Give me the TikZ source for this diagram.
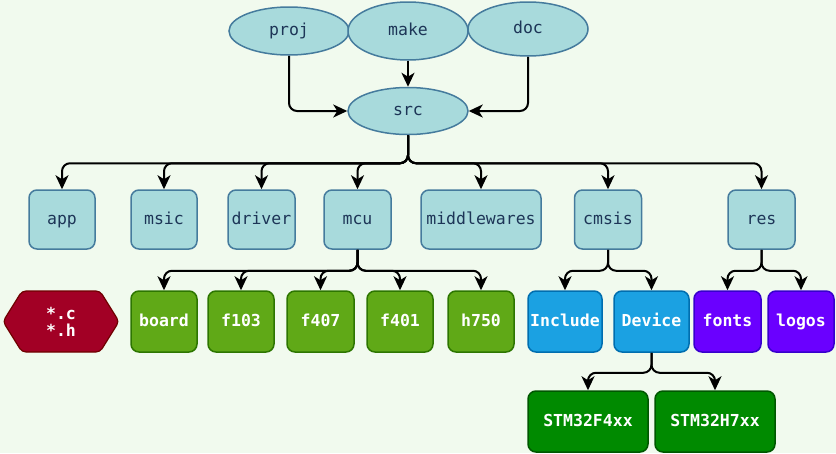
\documentclass[tikz,border=0pt]{standalone}
\usepackage{fontspec}
\setmonofont{DejaVu Sans Mono}
\usetikzlibrary{arrows.meta,shapes,positioning,calc}

\definecolor{bgcol}{HTML}{F1FAEE}
\definecolor{lightfill}{HTML}{A8DADC}
\definecolor{lightline}{HTML}{457B9D}
\definecolor{darktext}{HTML}{1D3557}
\definecolor{grfill}{HTML}{60A917}
\definecolor{grline}{HTML}{2D7600}
\definecolor{blfill}{HTML}{1BA1E2}
\definecolor{blline}{HTML}{006EAF}
\definecolor{pufill}{HTML}{6A00FF}
\definecolor{puline}{HTML}{3700CC}
\definecolor{dgfill}{HTML}{008A00}
\definecolor{dgline}{HTML}{005700}
\definecolor{rdfill}{HTML}{A20025}
\definecolor{rdline}{HTML}{6F0000}

\tikzset{
	base/.style={line width=1.5pt, inner sep=1pt, text height=11pt, text depth=2pt, font=\ttfamily\fontsize{16.5}{19}\selectfont},
	topdir/.style={base, ellipse, fill=lightfill, draw=lightline, text=darktext, minimum width=120pt},
	subdir/.style={base, rectangle, rounded corners=8pt, fill=lightfill, draw=lightline, text=darktext, minimum width=66pt, minimum height=59pt},
	colbox/.style={base, rectangle, rounded corners=8pt, text=white, font=\ttfamily\bfseries\fontsize{16.5}{19}\selectfont, minimum width=66pt, minimum height=61pt},
	mcubox/.style={colbox, fill=grfill, draw=grline},
	cmsisbox/.style={colbox, fill=blfill, draw=blline},
	resbox/.style={colbox, fill=pufill, draw=puline},
	devbox/.style={colbox, fill=dgfill, draw=dgline, minimum width=120pt},
	conn/.style={line width=2pt, rounded corners=8pt, -{Stealth[length=14pt,width=13pt,inset=4pt]}}
}

\begin{document}
\begin{tikzpicture}[x=1pt, y=-1pt]
	% Background
	\fill[bgcol] (0,0) rectangle (836,453);
	\useasboundingbox (0,0) rectangle (836,453);
	
	% Top level
	\node[topdir, minimum height=48pt] (proj) at (289,31) {proj};
	\node[topdir, minimum height=58pt] (make) at (408,31) {make};
	\node[topdir, minimum height=54pt] (doc) at (528,29) {doc};
	\node[topdir, minimum height=47pt] (src) at (408,111) {src};
	
	\draw[conn] (proj.south) |- (src.west);
	\draw[conn] (doc.south) |- (src.east);
	\draw[conn] (make.south) -- (src.north);
	
	% Source folders
	\node[subdir] (app) at (62,219.5) {app};
	\node[subdir] (msic) at (164,219.5) {msic};
	\node[subdir, minimum width=67pt] (driver) at (261.5,219.5) {driver};
	\node[subdir, minimum width=67pt] (mcu) at (357.5,219.5) {mcu};
	\node[subdir, minimum width=120pt] (middlewares) at (481,219.5) {middlewares};
	\node[subdir, minimum width=67pt] (cmsis) at (608,219.5) {cmsis};
	\node[subdir, minimum width=67pt] (res) at (761.5,219.5) {res};
	
	\foreach \d in {app,msic,driver,mcu,middlewares,cmsis,res}
		\draw[conn] (src.south) -- ++(0,28) -| (\d.north);
	
	% Files
	\draw[rdline, fill=rdfill, line width=1.2pt, rounded corners=4pt]
		(3,321.5) -- (22,291) -- (100,291) -- (119,321.5) -- (100,352) -- (22,352) -- cycle;
	\node[inner sep=0pt, text=white, align=center, font=\ttfamily\bfseries\fontsize{16.5}{17}\selectfont] (files) at (61,321.5) {*.c\\*.h};
	
	% mcu
	\node[mcubox] (board) at (164,321.5) {board};
	\node[mcubox] (f103) at (241,321.5) {f103};
	\node[mcubox, minimum width=67pt] (f407) at (320.5,321.5) {f407};
	\node[mcubox] (f401) at (400,321.5) {f401};
	\node[mcubox] (h750) at (481,321.5) {h750};
	
	\foreach \d in {board,f103,f407,f401,h750}
		\draw[conn] (mcu.south) -- ++(0,21) -| (\d.north);
	
	% cmsis
	\node[cmsisbox, minimum width=74pt] (include) at (565,321.5) {Include};
	\node[cmsisbox, minimum width=75pt] (device) at (651.5,321.5) {Device};
	
	\foreach \d in {include,device}
		\draw[conn] (cmsis.south) -- ++(0,21) -| (\d.north);
	
	% res
	\node[resbox, minimum width=67pt] (fonts) at (727.5,321.5) {fonts};
	\node[resbox] (logos) at (801,321.5) {logos};
	
	\foreach \d in {fonts,logos}
		\draw[conn] (res.south) -- ++(0,21) -| (\d.north);
	
	% Device
	\node[devbox] (stmf4) at (588,421.5) {STM32F4xx};
	\node[devbox] (stmh7) at (715,421.5) {STM32H7xx};
	
	\foreach \d in {stmf4,stmh7}
		\draw[conn] (device.south) -- ++(0,20) -| (\d.north);
\end{tikzpicture}
\end{document}
